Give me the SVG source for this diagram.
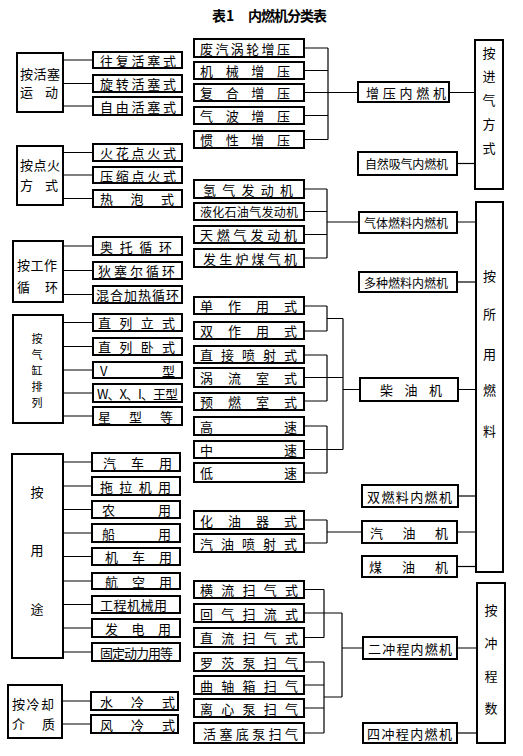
<svg xmlns="http://www.w3.org/2000/svg" width="523" height="756" viewBox="0 0 523 756">
<style>
.b{fill:#fff;stroke:#000;stroke-width:2}
.t{font-family:"Noto Sans CJK SC","Noto Sans",sans-serif;font-size:13px;fill:#000;dominant-baseline:central}
.s{font-size:12px}
.x{font-size:11px}
.h{font-family:"Noto Sans CJK SC",sans-serif;font-size:14px;font-weight:bold;fill:#000}
.v{text-anchor:middle}
.c{stroke:#000;stroke-width:1.2;fill:none}
</style>
<rect width="523" height="756" fill="#fff"/>
<g id="title">
<text class="h" x="212" y="21">表1</text>
<text class="h" x="248" y="21" textLength="79" lengthAdjust="spacing">内燃机分类表</text>
</g>
<g id="connectors">
<path class="c" d="M63 60H93M63 83.5H93M63 106H93"/>
<path class="c" d="M63 152.5H93M63 175H93M63 198.5H93"/>
<path class="c" d="M63 246H93M63 270.5H93M63 294.5H93"/>
<path class="c" d="M63 322.5H93M63 346.5H93M63 370H93M63 393H93M63 416H93"/>
<path class="c" d="M63 462H92M63 486H92M63 509.5H92M63 533H92M63 556.5H92M63 581H92M63 604.5H92M63 628H92M63 652H92"/>
<path class="c" d="M62 701H91M62 724H91"/>
<path class="c" d="M304 48H328M304 70.5H328M304 92.5H328M304 115.5H328M304 139.5H328M328 48V139.5M328 92.5H358M449 92.5H475"/>
<path class="c" d="M457 163.5H475"/>
<path class="c" d="M304 189H327M304 211.5H327M304 234.5H327M304 258H327M327 189V258M327 222H359M457 222H476"/>
<path class="c" d="M457 282H476"/>
<path class="c" d="M304 306H327M304 331H327M327 306V331M327 318.5H343M304 355H327M304 377.5H343M304 401H327M327 355V401M304 426H327M304 449.5H343M304 473H327M327 426V473M343 318.5V449.5M343 389.5H360M458 389.5H476"/>
<path class="c" d="M458 496H476"/>
<path class="c" d="M304 520H327M304 543H327M327 520V543M327 532H362M457 532H476"/>
<path class="c" d="M457 566.5H476"/>
<path class="c" d="M304 589.5H324M304 613H342M304 637.5H324M324 589.5V637.5M304 662H324M304 685H324M304 708H324M304 733H324M324 662V733M324 697H342M342 613V697M342 648H363M457 648H477"/>
<path class="c" d="M457 733H477"/>
</g>
<g id="by-piston"><rect class="b" x="17" y="53" width="46" height="59"/><text class="t" x="20" y="73" textLength="40" lengthAdjust="spacing">按活塞</text><text class="t" x="20" y="91" textLength="38" lengthAdjust="spacing">运动</text></g>
<g id="reciprocating"><rect class="b" x="93" y="52" width="89" height="16"/><text class="t" x="100" y="60" textLength="76" lengthAdjust="spacing">往复活塞式</text></g>
<g id="rotary"><rect class="b" x="93" y="75" width="89" height="17"/><text class="t" x="100" y="83.5" textLength="76" lengthAdjust="spacing">旋转活塞式</text></g>
<g id="free-piston"><rect class="b" x="93" y="97" width="89" height="18"/><text class="t" x="100" y="106" textLength="76" lengthAdjust="spacing">自由活塞式</text></g>
<g id="by-ignition"><rect class="b" x="17" y="146" width="46" height="59"/><text class="t" x="20" y="164" textLength="40" lengthAdjust="spacing">按点火</text><text class="t" x="20" y="184" textLength="38" lengthAdjust="spacing">方式</text></g>
<g id="spark"><rect class="b" x="93" y="144" width="89" height="17"/><text class="t" x="100" y="152.5" textLength="76" lengthAdjust="spacing">火花点火式</text></g>
<g id="compression"><rect class="b" x="93" y="167" width="89" height="16"/><text class="t" x="100" y="175" textLength="76" lengthAdjust="spacing">压缩点火式</text></g>
<g id="hot-bulb"><rect class="b" x="93" y="190" width="89" height="17"/><text class="t" x="100" y="198.5" textLength="74" lengthAdjust="spacing">热泡式</text></g>
<g id="by-cycle"><rect class="b" x="13" y="241" width="50" height="61"/><text class="t" x="17" y="264" textLength="40" lengthAdjust="spacing">按工作</text><text class="t" x="17" y="286" textLength="41" lengthAdjust="spacing">循环</text></g>
<g id="otto"><rect class="b" x="93" y="237" width="89" height="18"/><text class="t" x="100" y="246" textLength="72" lengthAdjust="spacing">奥托循环</text></g>
<g id="diesel-cycle"><rect class="b" x="93" y="262" width="89" height="17"/><text class="t" x="98" y="270.5" textLength="77" lengthAdjust="spacing">狄塞尔循环</text></g>
<g id="mixed"><rect class="b" x="93" y="286" width="89" height="17"/><text class="t" x="96" y="294.5" textLength="83" lengthAdjust="spacing">混合加热循环</text></g>
<g id="by-cylinder"><rect class="b" x="13" y="315" width="50" height="108"/>
<text class="t x v" x="37" y="338">按</text><text class="t x v" x="37" y="354">气</text><text class="t x v" x="37" y="370">缸</text><text class="t x v" x="37" y="386">排</text><text class="t x v" x="37" y="402">列</text></g>
<g id="inline-v"><rect class="b" x="93" y="314" width="89" height="17"/><text class="t" x="98" y="322.5" textLength="77" lengthAdjust="spacing">直列立式</text></g>
<g id="inline-h"><rect class="b" x="93" y="338" width="89" height="17"/><text class="t" x="98" y="346.5" textLength="77" lengthAdjust="spacing">直列卧式</text></g>
<g id="v-type"><rect class="b" x="93" y="362" width="89" height="16"/><text class="t" x="100" y="370" textLength="75" lengthAdjust="spacing">V型</text></g>
<g id="wx"><rect class="b" x="93" y="384" width="89" height="18"/><text class="t" x="97" y="393" textLength="81" lengthAdjust="spacing">W、X、I、王型</text></g>
<g id="star"><rect class="b" x="93" y="407" width="89" height="18"/><text class="t" x="98" y="416" textLength="75" lengthAdjust="spacing">星型等</text></g>
<g id="by-use"><rect class="b" x="12" y="454" width="51" height="204"/><text class="t v" x="37" y="491">按</text><text class="t v" x="37" y="549">用</text><text class="t v" x="37" y="608">途</text></g>
<g id="car"><rect class="b" x="92" y="453" width="88" height="18"/><text class="t" x="103" y="462" textLength="69" lengthAdjust="spacing">汽车用</text></g>
<g id="tractor"><rect class="b" x="92" y="477" width="88" height="18"/><text class="t" x="100" y="486" textLength="71" lengthAdjust="spacing">拖拉机用</text></g>
<g id="farm"><rect class="b" x="92" y="501" width="88" height="17"/><text class="t" x="102" y="509.5" textLength="69" lengthAdjust="spacing">农用</text></g>
<g id="ship"><rect class="b" x="92" y="524" width="88" height="18"/><text class="t" x="102" y="533" textLength="69" lengthAdjust="spacing">船用</text></g>
<g id="loco"><rect class="b" x="92" y="548" width="88" height="17"/><text class="t" x="105" y="556.5" textLength="67" lengthAdjust="spacing">机车用</text></g>
<g id="aero"><rect class="b" x="92" y="573" width="88" height="16"/><text class="t" x="105" y="581" textLength="67" lengthAdjust="spacing">航空用</text></g>
<g id="construction"><rect class="b" x="92" y="596" width="88" height="17"/><text class="t" x="100" y="604.5" textLength="67" lengthAdjust="spacing">工程机械用</text></g>
<g id="power"><rect class="b" x="92" y="619" width="88" height="18"/><text class="t" x="105" y="628" textLength="66" lengthAdjust="spacing">发电用</text></g>
<g id="stationary"><rect class="b" x="92" y="643" width="88" height="18"/><text class="t" x="100" y="652" textLength="73" lengthAdjust="spacing">固定动力用等</text></g>
<g id="by-cooling"><rect class="b" x="8" y="685" width="54" height="53"/><text class="t" x="12" y="703" textLength="42" lengthAdjust="spacing">按冷却</text><text class="t" x="12" y="723" textLength="43" lengthAdjust="spacing">介质</text></g>
<g id="water"><rect class="b" x="91" y="692" width="87" height="18"/><text class="t" x="100" y="701" textLength="75" lengthAdjust="spacing">水冷式</text></g>
<g id="air"><rect class="b" x="91" y="715" width="87" height="18"/><text class="t" x="100" y="724" textLength="75" lengthAdjust="spacing">风冷式</text></g>
<g id="turbo"><rect class="b" x="194" y="39" width="110" height="18"/><text class="t" x="200" y="48" textLength="90" lengthAdjust="spacing">废汽涡轮增压</text></g>
<g id="mech"><rect class="b" x="194" y="62" width="110" height="17"/><text class="t" x="200" y="70.5" textLength="90" lengthAdjust="spacing">机械增压</text></g>
<g id="combined"><rect class="b" x="194" y="84" width="110" height="17"/><text class="t" x="200" y="92.5" textLength="90" lengthAdjust="spacing">复合增压</text></g>
<g id="wave"><rect class="b" x="194" y="107" width="110" height="17"/><text class="t" x="200" y="115.5" textLength="90" lengthAdjust="spacing">气波增压</text></g>
<g id="inertia"><rect class="b" x="194" y="131" width="110" height="17"/><text class="t" x="200" y="139.5" textLength="90" lengthAdjust="spacing">惯性增压</text></g>
<g id="hydrogen"><rect class="b" x="194" y="180" width="110" height="18"/><text class="t" x="203" y="189" textLength="90" lengthAdjust="spacing">氢气发动机</text></g>
<g id="lpg"><rect class="b" x="194" y="203" width="110" height="17"/><text class="t s" x="200" y="211.5" textLength="98" lengthAdjust="spacing">液化石油气发动机</text></g>
<g id="natural-gas"><rect class="b" x="194" y="226" width="110" height="17"/><text class="t" x="200" y="234.5" textLength="97" lengthAdjust="spacing">天燃气发动机</text></g>
<g id="producer-gas"><rect class="b" x="194" y="249" width="110" height="18"/><text class="t" x="203" y="258" textLength="94" lengthAdjust="spacing">发生炉煤气机</text></g>
<g id="single-acting"><rect class="b" x="194" y="297" width="110" height="17"/><text class="t" x="200" y="305.5" textLength="97" lengthAdjust="spacing">单作用式</text></g>
<g id="double-acting"><rect class="b" x="194" y="322" width="110" height="17"/><text class="t" x="200" y="330.5" textLength="97" lengthAdjust="spacing">双作用式</text></g>
<g id="direct-inj"><rect class="b" x="194" y="346" width="110" height="17"/><text class="t" x="200" y="354.5" textLength="97" lengthAdjust="spacing">直接喷射式</text></g>
<g id="swirl"><rect class="b" x="194" y="368" width="110" height="19"/><text class="t" x="200" y="377.5" textLength="97" lengthAdjust="spacing">涡流室式</text></g>
<g id="precombustion"><rect class="b" x="194" y="393" width="110" height="17"/><text class="t" x="200" y="401.5" textLength="97" lengthAdjust="spacing">预燃室式</text></g>
<g id="high-speed"><rect class="b" x="194" y="417" width="110" height="18"/><text class="t" x="200" y="426" textLength="97" lengthAdjust="spacing">高速</text></g>
<g id="mid-speed"><rect class="b" x="194" y="441" width="110" height="17"/><text class="t" x="200" y="449.5" textLength="97" lengthAdjust="spacing">中速</text></g>
<g id="low-speed"><rect class="b" x="194" y="463" width="110" height="19"/><text class="t" x="200" y="472.5" textLength="97" lengthAdjust="spacing">低速</text></g>
<g id="carburetor"><rect class="b" x="194" y="511" width="110" height="18"/><text class="t" x="200" y="520" textLength="97" lengthAdjust="spacing">化油器式</text></g>
<g id="petrol-inj"><rect class="b" x="194" y="534" width="110" height="18"/><text class="t" x="200" y="543" textLength="97" lengthAdjust="spacing">汽油喷射式</text></g>
<g id="cross-scav"><rect class="b" x="194" y="581" width="110" height="17"/><text class="t" x="200" y="589.5" textLength="98" lengthAdjust="spacing">横流扫气式</text></g>
<g id="loop-scav"><rect class="b" x="194" y="604" width="110" height="18"/><text class="t" x="200" y="613" textLength="98" lengthAdjust="spacing">回气扫流式</text></g>
<g id="uniflow"><rect class="b" x="194" y="628" width="110" height="19"/><text class="t" x="200" y="637.5" textLength="98" lengthAdjust="spacing">直流扫气式</text></g>
<g id="roots"><rect class="b" x="194" y="653" width="110" height="18"/><text class="t" x="200" y="662" textLength="98" lengthAdjust="spacing">罗茨泵扫气</text></g>
<g id="crankcase"><rect class="b" x="194" y="676" width="110" height="18"/><text class="t" x="200" y="685" textLength="98" lengthAdjust="spacing">曲轴箱扫气</text></g>
<g id="centrifugal"><rect class="b" x="194" y="699" width="110" height="18"/><text class="t" x="200" y="708" textLength="98" lengthAdjust="spacing">离心泵扫气</text></g>
<g id="piston-pump"><rect class="b" x="194" y="723" width="110" height="20"/><text class="t" x="203" y="733" textLength="95" lengthAdjust="spacing">活塞底泵扫气</text></g>
<g id="supercharged"><rect class="b" x="358" y="82" width="91" height="20"/><text class="t" x="366" y="92.5" textLength="80" lengthAdjust="spacing">增压内燃机</text></g>
<g id="naturally-aspirated"><rect class="b" x="358" y="152" width="99" height="23"/><text class="t s" x="365" y="163.5" textLength="83" lengthAdjust="spacing">自然吸气内燃机</text></g>
<g id="gas-fuel"><rect class="b" x="359" y="212" width="98" height="21"/><text class="t s" x="364" y="222.5" textLength="84" lengthAdjust="spacing">气体燃料内燃机</text></g>
<g id="multi-fuel"><rect class="b" x="359" y="272" width="98" height="20"/><text class="t s" x="364" y="282" textLength="84" lengthAdjust="spacing">多种燃料内燃机</text></g>
<g id="diesel"><rect class="b" x="360" y="378" width="98" height="23"/><text class="t" x="380" y="389.5" textLength="62" lengthAdjust="spacing">柴油机</text></g>
<g id="dual-fuel"><rect class="b" x="362" y="485" width="96" height="22"/><text class="t" x="367" y="496" textLength="85" lengthAdjust="spacing">双燃料内燃机</text></g>
<g id="petrol"><rect class="b" x="362" y="521" width="95" height="22"/><text class="t" x="370" y="532" textLength="78" lengthAdjust="spacing">汽油机</text></g>
<g id="kerosene"><rect class="b" x="362" y="556" width="95" height="21"/><text class="t" x="369" y="566.5" textLength="79" lengthAdjust="spacing">煤油机</text></g>
<g id="two-stroke"><rect class="b" x="363" y="637" width="94" height="22"/><text class="t" x="368" y="648" textLength="84" lengthAdjust="spacing">二冲程内燃机</text></g>
<g id="four-stroke"><rect class="b" x="363" y="723" width="94" height="20"/><text class="t" x="367" y="733" textLength="85" lengthAdjust="spacing">四冲程内燃机</text></g>
<g id="by-intake"><rect class="b" x="475" y="40" width="28" height="149"/><text class="t v" x="489" y="52">按</text><text class="t v" x="489" y="75">进</text><text class="t v" x="489" y="99">气</text><text class="t v" x="489" y="123">方</text><text class="t v" x="489" y="147">式</text></g>
<g id="by-fuel"><rect class="b" x="476" y="202" width="27" height="370"/><text class="t v" x="489.5" y="275">按</text><text class="t v" x="489.5" y="313">所</text><text class="t v" x="489.5" y="353">用</text><text class="t v" x="489.5" y="389">燃</text><text class="t v" x="489.5" y="430">料</text></g>
<g id="by-stroke"><rect class="b" x="477" y="583" width="28" height="160"/><text class="t v" x="491" y="609">按</text><text class="t v" x="491" y="642">冲</text><text class="t v" x="491" y="675">程</text><text class="t v" x="491" y="707">数</text></g>
</svg>
